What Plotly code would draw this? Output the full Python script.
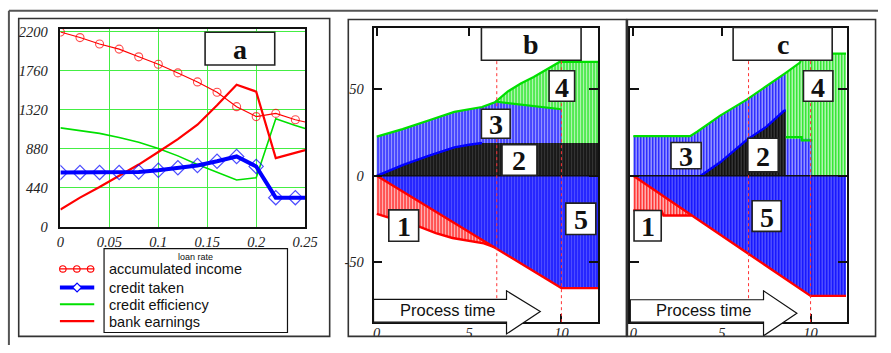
import plotly.graph_objects as go

W, H = 891, 353


def px(x):
    return x / W


def py(y):
    return 1 - y / H


# ---------------- Panel a data ----------------
a_rate = [0, 0.02, 0.04, 0.06, 0.08, 0.10, 0.12, 0.14, 0.16, 0.18, 0.20, 0.22, 0.24, 0.25]
a_income = [2193, 2131, 2059, 2001, 1914, 1830, 1733, 1631, 1515, 1352, 1240, 1276, 1204, 1178]
a_credit = [609, 609, 609, 609, 616, 634, 663, 689, 736, 790, 678, 326, 326, 326]
a_efficiency = [1113, 1084, 1051, 1004, 950, 881, 797, 700, 616, 525, 551, 1215, 1139, 1106]
a_bank = [192, 326, 446, 569, 699, 841, 986, 1149, 1367, 1600, 1522, 772, 832, 862]
a_marked = [True] * 13 + [False]
a_yticks = [0, 440, 880, 1320, 1760, 2200]
a_xticks = [0, 0.05, 0.1, 0.15, 0.2, 0.25]
a_xticktext = ["0", "0.05", "0.1", "0.15", "0.2", "0.25"]
legend_title = "loan rate"
legend_names = ["accumulated income", "credit taken", "credit efficiency", "bank earnings"]

# ---------------- Panel b data ----------------
b_top_t = [0, 1.4, 2.8, 4.2, 5.7, 6.4, 7.1, 7.8, 8.5, 9.2, 9.9, 12]
b_top_v = [22.7, 27.0, 32.0, 37.0, 39.8, 42.5, 48.8, 53.4, 57.2, 61.8, 65.9, 65.9]
b_blue_t = [0, 1.4, 2.8, 4.2, 5.7, 6.4, 7.1, 7.8, 9.2, 10]
b_blue_v = [22.7, 27.0, 32.0, 37.0, 39.8, 43.0, 42.2, 41.3, 39.8, 38.5]
b_black_t = [0, 1.4, 2.8, 4.2, 5.0, 5.7, 12]
b_black_v = [0, 6.2, 11.5, 16.5, 18.0, 19.0, 19.0]
b_red_t = [0, 0.5, 1.4, 2.3, 3.2, 4.1, 5.0, 5.8, 6.4]
b_red_v = [-22.0, -23.8, -26.6, -29.4, -33.2, -36.0, -37.8, -39.1, -41.4]
b_diag_t = [0, 10, 12]
b_diag_v = [0, -65.0, -65.0]

# ---------------- Panel c data ----------------
c_top_t = [0, 3.2, 3.6, 4.9, 6.4, 7.5, 8.6, 9.4, 9.6, 12]
c_top_v = [23.0, 23.0, 25.5, 34.8, 44.1, 51.6, 59.6, 65.5, 70.7, 70.7]
c_blue_t = [0, 3.2, 3.6, 4.9, 6.4, 7.5, 8.6, 8.6, 10.05]
c_blue_v = [23.0, 23.0, 25.5, 34.8, 44.1, 51.6, 59.6, 21.5, 21.5]
c_cap_t = [8.6, 9.5, 9.5, 10.1]
c_cap_v = [22.4, 22.4, 20.5, 20.5]
c_black_t = [3.8, 4.9, 6.4, 7.5, 8.5, 8.6]
c_black_v = [0, 7.8, 20.8, 28.3, 37.6, 38.0]
c_red_t = [0, 1.6, 1.7, 3.3]
c_red_v = [-20.0, -20.5, -23.0, -23.0]
c_diag_t = [0, 10, 12]
c_diag_v = [0, -69.5, -69.5]

bc_xticks = [0, 5, 10]
bc_yticks = [-50, 0, 50]
bc_yticktext = ["-50", "0", "50"]
marker_times = [6.5, 10]

RED = "#ff0000"
BLUE = "#0000ff"
GREEN = "#00e000"
SERIF = "Liberation Serif"
SANS = "Liberation Sans"

fig = go.Figure()

# ---------------- Panel a traces ----------------
fig.add_trace(go.Scatter(x=a_rate, y=a_efficiency, mode="lines",
                         line=dict(color=GREEN, width=1.6), xaxis="x", yaxis="y"))
fig.add_trace(go.Scatter(x=a_rate, y=a_bank, mode="lines",
                         line=dict(color=RED, width=2.2), xaxis="x", yaxis="y"))
fig.add_trace(go.Scatter(x=a_rate, y=a_income, mode="lines+markers",
                         line=dict(color=RED, width=1.1),
                         marker=dict(symbol="circle-open", color=RED,
                                     size=[8 if m else 0 for m in a_marked],
                                     line=dict(width=1.1, color=RED)),
                         xaxis="x", yaxis="y"))
fig.add_trace(go.Scatter(x=a_rate, y=a_credit, mode="lines+markers",
                         line=dict(color=BLUE, width=4),
                         marker=dict(symbol="diamond-open", color=BLUE,
                                     size=[11 if m else 0 for m in a_marked],
                                     line=dict(width=1.2, color=BLUE)),
                         xaxis="x", yaxis="y"))


def pattern(fg, bg, sol, size=3):
    return dict(shape="|", fgcolor=fg, bgcolor=bg, size=size, solidity=sol, fillmode="replace")


def add_fill(t, v, fg, bg, sol, xa, ya):
    fig.add_trace(go.Scatter(x=t, y=v, mode="none", fill="tozeroy", fillcolor=bg,
                             fillpattern=pattern(fg, bg, sol), xaxis=xa, yaxis=ya))


def add_edge(t, v, color, width, xa, ya):
    fig.add_trace(go.Scatter(x=t, y=v, mode="lines", line=dict(color=color, width=width),
                             xaxis=xa, yaxis=ya))


# ---------------- Panel b traces ----------------
add_fill(b_top_t, b_top_v, GREEN, "#ffffff", 0.55, "x2", "y2")
add_fill(b_blue_t, b_blue_v, BLUE, "#ffffff", 0.62, "x2", "y2")
add_fill(b_black_t, b_black_v, "#000000", "#555555", 0.6, "x2", "y2")
add_fill(b_red_t, b_red_v, RED, "#ffffff", 0.55, "x2", "y2")
add_fill(b_diag_t, b_diag_v, BLUE, "#ffffff", 0.8, "x2", "y2")
add_edge(b_top_t, b_top_v, GREEN, 2.2, "x2", "y2")
add_edge(b_blue_t[5:], b_blue_v[5:], GREEN, 2.2, "x2", "y2")
add_edge(b_black_t[:6], b_black_v[:6], BLUE, 2.4, "x2", "y2")
add_edge(b_red_t, b_red_v, RED, 2.4, "x2", "y2")
add_edge(b_diag_t, b_diag_v, RED, 2.4, "x2", "y2")

# ---------------- Panel c traces ----------------
add_fill(c_top_t, c_top_v, GREEN, "#ffffff", 0.55, "x3", "y3")
add_fill(c_blue_t, c_blue_v, BLUE, "#ffffff", 0.62, "x3", "y3")
add_fill(c_black_t, c_black_v, "#000000", "#555555", 0.6, "x3", "y3")
add_fill(c_red_t, c_red_v, RED, "#ffffff", 0.55, "x3", "y3")
add_fill(c_diag_t, c_diag_v, BLUE, "#ffffff", 0.8, "x3", "y3")
add_edge(c_top_t, c_top_v, GREEN, 2.2, "x3", "y3")
add_edge(c_cap_t, c_cap_v, GREEN, 2.2, "x3", "y3")
add_edge(c_black_t, c_black_v, BLUE, 2.4, "x3", "y3")
add_edge(c_red_t, c_red_v, RED, 2.4, "x3", "y3")
add_edge(c_diag_t, c_diag_v, RED, 2.4, "x3", "y3")

tickfont = dict(family=SERIF, size=14.5, style="italic", color="#222")

fig.update_layout(
    width=W, height=H, margin=dict(l=0, r=0, t=0, b=0),
    paper_bgcolor="white", plot_bgcolor="white", showlegend=False,
    xaxis=dict(domain=[px(57.5), px(307)], range=[0, 0.25], anchor="y",
               tickvals=a_xticks, ticktext=a_xticktext, ticks="",
               showgrid=True, gridcolor="#44ee44", gridwidth=1, zeroline=False,
               showline=True, mirror=True, linecolor="#111", linewidth=1.6,
               tickfont=tickfont, ticklabelstandoff=1),
    yaxis=dict(domain=[py(230), py(25)], range=[0, 2227], anchor="x",
               tickvals=a_yticks, ticks="",
               showgrid=True, gridcolor="#44ee44", gridwidth=1, zeroline=False,
               showline=True, mirror=True, linecolor="#111", linewidth=1.6,
               tickfont=tickfont, ticklabelstandoff=8),
    xaxis2=dict(domain=[px(376.7), px(605.7)], range=[-0.175, 11.99], anchor="y2",
                tickvals=bc_xticks, ticks="inside", ticklen=8, tickwidth=1.5, tickcolor="#111",
                showgrid=False, zeroline=False, showline=True, mirror="ticks",
                linecolor="#111", linewidth=1.5, tickfont=tickfont, ticklabelstandoff=-3),
    yaxis2=dict(domain=[py(329.3), py(24.3)], range=[-84.7, 85.3], anchor="x2",
                tickvals=bc_yticks, ticktext=bc_yticktext, ticks="inside", ticklen=9,
                tickwidth=1.5, tickcolor="#111",
                showgrid=False, zeroline=False, showline=True, mirror="ticks",
                linecolor="#111", linewidth=1.5, tickfont=tickfont, ticklabelstandoff=5),
    xaxis3=dict(domain=[px(638.5), px(859.3)], range=[-0.17, 12.05], anchor="y3",
                tickvals=bc_xticks, ticks="inside", ticklen=8, tickwidth=1.5, tickcolor="#111",
                showgrid=False, zeroline=False, showline=True, mirror="ticks",
                linecolor="#111", linewidth=1.5, tickfont=tickfont, ticklabelstandoff=-3),
    yaxis3=dict(domain=[py(329.3), py(24.3)], range=[-84.7, 85.3], anchor="x3",
                tickvals=bc_yticks, ticks="inside", ticklen=9, tickwidth=1.5, tickcolor="#111",
                showticklabels=False,
                showgrid=False, zeroline=False, showline=True, mirror="ticks",
                linecolor="#111", linewidth=1.5),
)

shapes = []
annotations = []

# zero lines and time markers for b and c
for xa, ya in (("x2", "y2"), ("x3", "y3")):
    shapes.append(dict(type="line", xref=xa, yref=ya, x0=0, x1=12, y0=0, y1=0,
                       line=dict(color="#111", width=1.5), layer="above"))
    for tm in marker_times:
        shapes.append(dict(type="line", xref=xa, yref=ya, x0=tm, x1=tm, y0=-84.7, y1=85.3,
                           line=dict(color="#ff3333", width=1, dash="dot"), layer="above"))


def rect(x0, y0, x1, y1, color="#222", width=1.5, fill=None):
    d = dict(type="rect", xref="paper", yref="paper",
             x0=px(x0), x1=px(x1), y0=py(y1), y1=py(y0),
             line=dict(color=color, width=width), layer="above")
    if fill:
        d["fillcolor"] = fill
    return d


def path(points, color="#111", width=1.2, fill="white"):
    s = "M " + " L ".join(f"{px(x):.5f},{py(y):.5f}" for x, y in points) + " Z"
    return dict(type="path", xref="paper", yref="paper", path=s,
                line=dict(color=color, width=width), fillcolor=fill, layer="above")


# cover bottom of tick labels (clipped by frame)
shapes.append(dict(type="rect", xref="paper", yref="paper", x0=px(340), x1=1.0,
                   y0=0, y1=py(344.8), fillcolor="white", line=dict(width=0), layer="above"))

# process-time arrows
shapes.append(path([(376.7, 305.7), (512.3, 305.7), (512.3, 296.7), (546.7, 318.3),
                    (512.3, 341.5), (512.3, 329.3), (376.7, 329.3)]))
shapes.append(path([(638.5, 306.0), (774.3, 306.0), (774.3, 296.7), (808.3, 320.0),
                    (774.3, 343.5), (774.3, 329.3), (638.5, 329.3)]))
for cx in (451.7, 713.3):
    annotations.append(dict(text="Process time", xref="paper", yref="paper",
                            x=px(cx), y=py(317), xanchor="center", yanchor="middle",
                            showarrow=False, font=dict(family=SANS, size=16.5, color="#111")))

# label boxes
boxes = [
    ("a", 205, 28.3, 276, 62.3), ("b", 486.7, 23.3, 588.3, 57.3),
    ("3", 486.7, 108.3, 516, 138.3), ("2", 507.7, 145, 543.3, 176.7),
    ("4", 555.7, 68.3, 581.7, 100), ("1", 392.3, 212.7, 422.7, 245.3),
    ("5", 572.7, 205.7, 603.3, 238.3), ("c", 743.3, 23.3, 844.3, 57.3),
    ("4", 815, 68.3, 845, 100), ("3", 680, 142.7, 710.7, 170),
    ("2", 758.3, 138.3, 789.3, 173.3), ("1", 642.3, 213.3, 670, 245),
    ("5", 762.7, 203.3, 792.3, 235),
]
for txt, x0, y0, x1, y1 in boxes:
    shapes.append(rect(x0, y0, x1, y1, color="#222", width=1.6, fill="white"))
    annotations.append(dict(text=txt, xref="paper", yref="paper",
                            x=px((x0 + x1) / 2), y=py((y0 + y1) / 2 + 1),
                            xanchor="center", yanchor="middle", showarrow=False,
                            font=dict(family=SERIF, size=28, weight="bold", color="#111")))

# frames
shapes.append(dict(type="line", xref="paper", yref="paper", x0=px(5), x1=px(5), y0=0, y1=py(6),
                   line=dict(color="#555", width=2), layer="above"))
shapes.append(dict(type="line", xref="paper", yref="paper", x0=px(5), x1=1.0, y0=py(6), y1=py(6),
                   line=dict(color="#555", width=2), layer="above"))
shapes.append(rect(15, 14, 332, 344, color="#333", width=1.6))
shapes.append(rect(351, 15, 634.5, 344, color="#333", width=1.6))
shapes.append(rect(635.5, 15, 888.5, 344, color="#333", width=1.6))

# panel a legend
shapes.append(rect(102, 253, 289, 340, color="#111", width=1.2))
annotations.append(dict(text=legend_title, xref="paper", yref="paper", x=px(195.5), y=py(262),
                        xanchor="center", yanchor="middle", showarrow=False,
                        font=dict(family=SANS, size=9, color="#111")))
leg_y = [274, 293.3, 310.7, 328.3]
leg_style = [(RED, 1.2), (BLUE, 3.8), (GREEN, 1.8), (RED, 2.2)]
for name, yy, (col, wd) in zip(legend_names, leg_y, leg_style):
    shapes.append(dict(type="line", xref="paper", yref="paper", x0=px(57), x1=px(92),
                       y0=py(yy), y1=py(yy), line=dict(color=col, width=wd), layer="above"))
    annotations.append(dict(text=name, xref="paper", yref="paper", x=px(104.5), y=py(yy + 0.5),
                            xanchor="left", yanchor="middle", showarrow=False,
                            font=dict(family=SANS, size=14.5, color="#111")))
for cx in (60, 74.3, 88.3):
    r = 3.3
    shapes.append(dict(type="circle", xref="paper", yref="paper",
                       x0=px(cx - r), x1=px(cx + r), y0=py(274 + r), y1=py(274 - r),
                       line=dict(color=RED, width=1.1), layer="above"))
shapes.append(path([(74.5, 288.8), (79, 293.3), (74.5, 297.8), (70, 293.3)],
                   color=BLUE, width=1.2, fill="white"))

fig.update_layout(shapes=shapes, annotations=annotations)
fig.write_html("out.html")
